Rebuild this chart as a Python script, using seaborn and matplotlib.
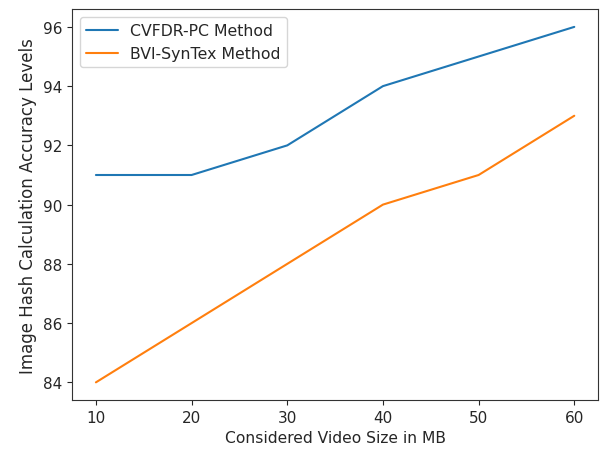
import matplotlib
matplotlib.use("Agg")
import matplotlib.pyplot as plt
import seaborn as sns
import pandas as pd

# --- data ---
video_size = [10, 20, 30, 40, 50, 60]
cvfdr_pc = [91, 91, 92, 94, 95, 96]
bvi_syntex = [84, 86, 88, 90, 91, 93]
series_names = ["CVFDR-PC Method", "BVI-SynTex Method"]

df = pd.DataFrame({
    "size": video_size * 2,
    "acc": cvfdr_pc + bvi_syntex,
    "method": [series_names[0]] * len(video_size) + [series_names[1]] * len(video_size),
})

sns.set_style("ticks")
plt.rcParams["font.family"] = ["DejaVu Sans"]

fig = plt.figure(figsize=(6, 4.6), dpi=100)
ax = fig.add_axes([0.12, 0.128, 0.877, 0.85])
sns.lineplot(data=df, x="size", y="acc", hue="method",
             palette=["#1f77b4", "#ff7f0e"], linewidth=1.5, ax=ax)

for side in ["top", "right", "left", "bottom"]:
    ax.spines[side].set_visible(True)
    ax.spines[side].set_color("#333333")

ax.set_xticks(video_size)
ax.set_yticks([84, 86, 88, 90, 92, 94, 96])
ax.tick_params(labelsize=11)
ax.set_xlabel("Considered Video Size in MB", fontsize=11.2)
ax.set_ylabel("Image Hash Calculation Accuracy Levels", fontsize=12)
ax.legend(title=None, loc="upper left", fontsize=11.3)

fig.savefig("out.png", dpi=100)
